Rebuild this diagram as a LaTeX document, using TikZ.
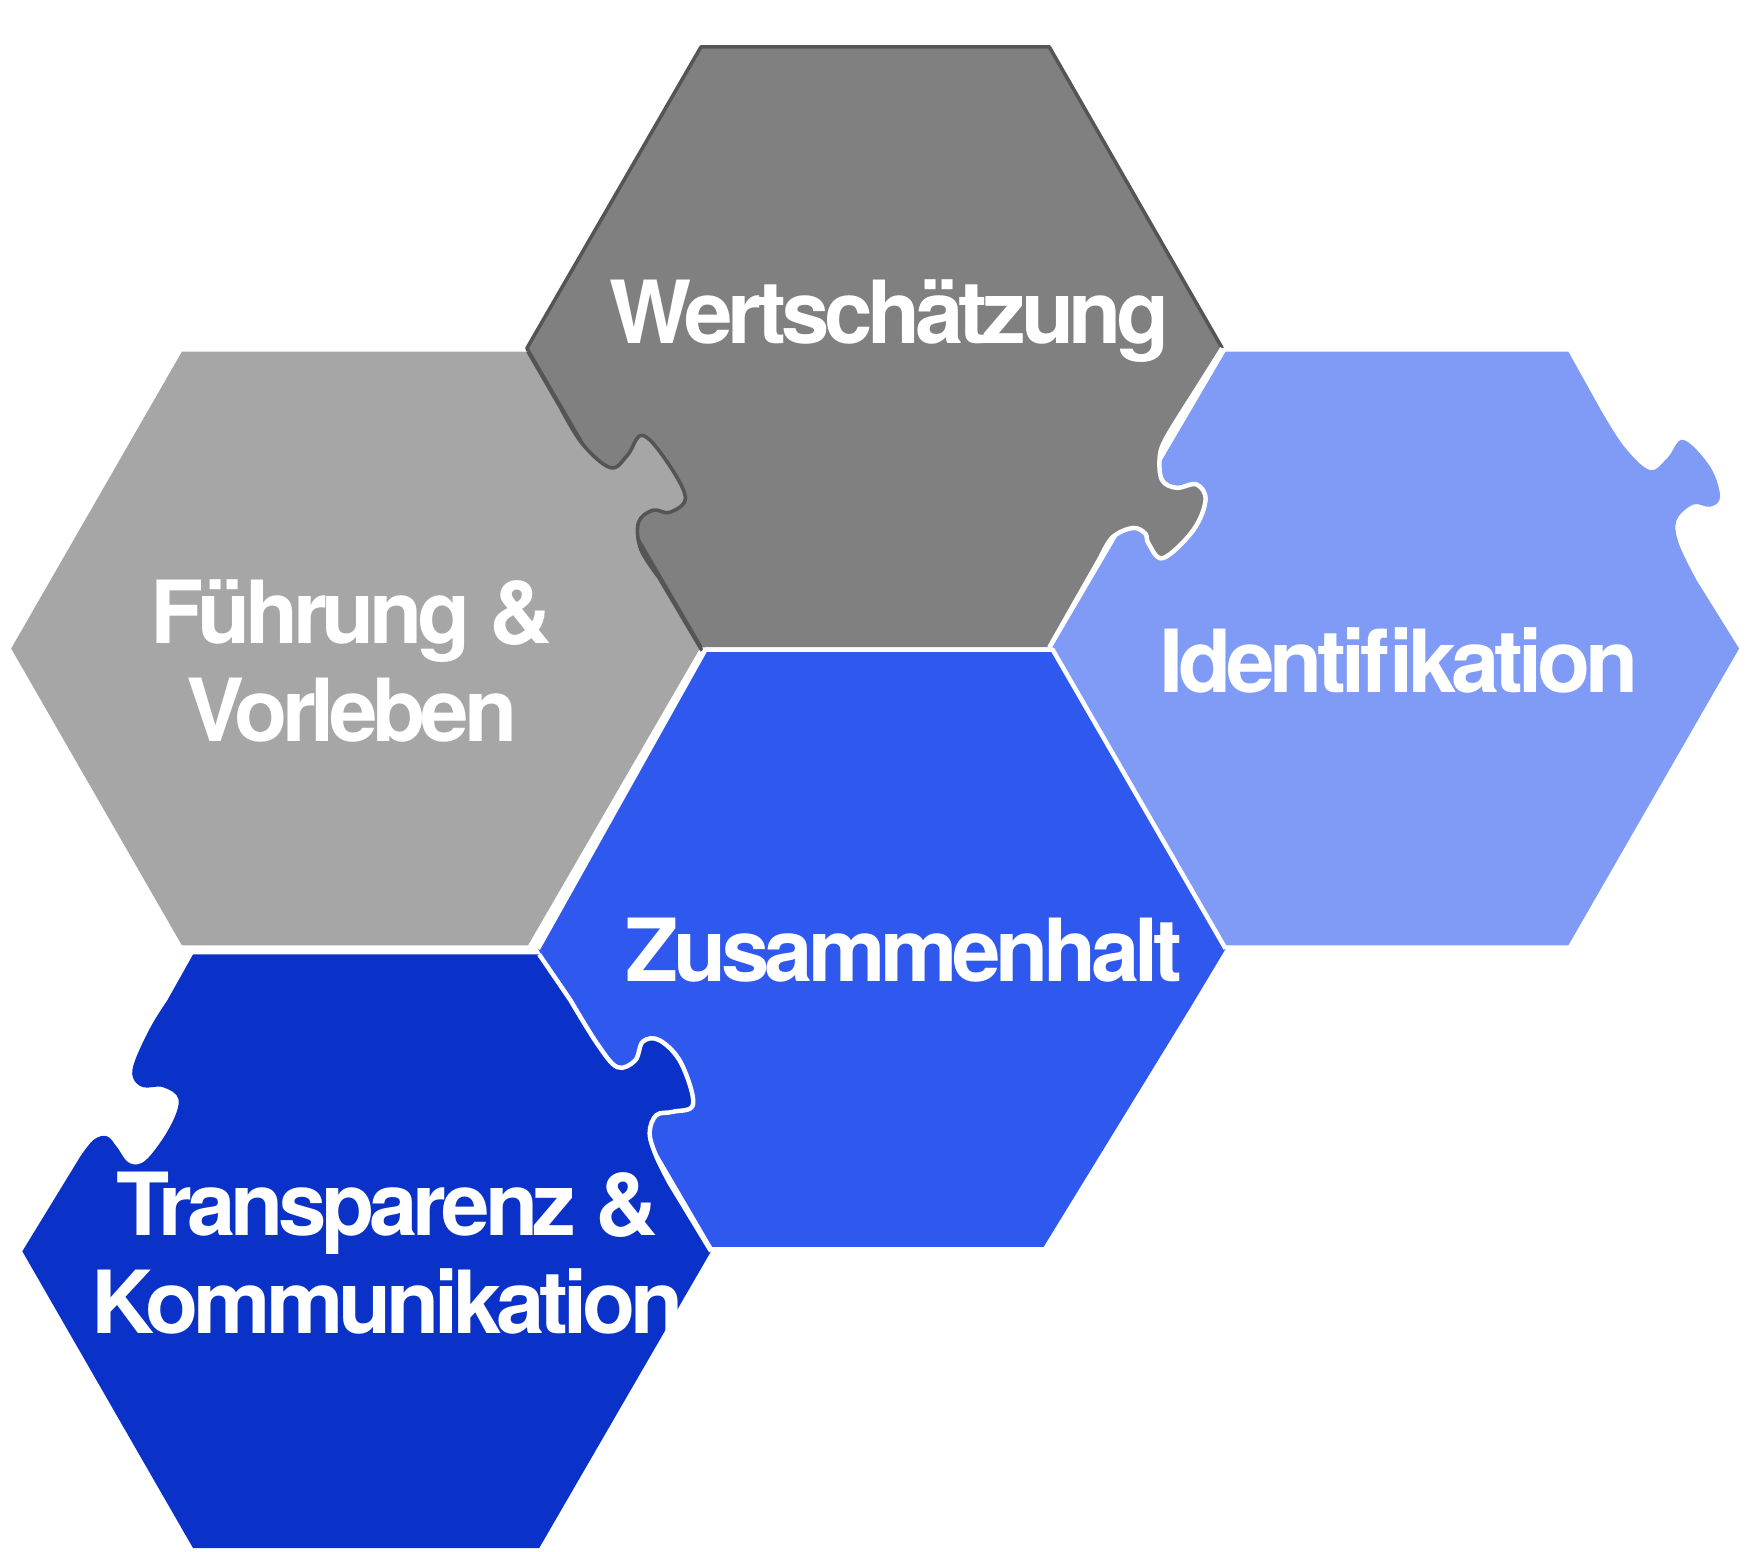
\documentclass[tikz,border=0pt]{standalone}
\usepackage{fontspec}
\setmainfont{TeX Gyre Heros}[LetterSpace=-6]
\definecolor{cWert}{HTML}{808080}
\definecolor{cWertS}{HTML}{555555}
\definecolor{cFuehr}{HTML}{A6A6A6}
\definecolor{cIdent}{HTML}{809BF5}
\definecolor{cZus}{HTML}{2E58EE}
\definecolor{cTrans}{HTML}{0A32C8}
\begin{document}
\begin{tikzpicture}[x=0.5pt,y=-0.5pt,
  lbl/.style={text=white,font=\fontsize{39}{44}\selectfont\bfseries,align=center,inner sep=0pt},
  wline/.style={draw=white,line width=2pt,line join=round},
  knob/.style={smooth,tension=0.6}]
\useasboundingbox (0,0) rectangle (1566,1390);
% Identifikation
\fill[cIdent] (1098,315) -- (1405,315) -- (1434,367) -- plot[knob] coordinates {(1434,367) (1455,400) (1478,421) (1494,410) (1508,394) (1532,418) (1541,445) (1532,454) (1517,452) (1502,466) (1504,487) (1520,520)} -- (1558,581) -- (1405,847) -- (1098,847) -- (942,581) -- cycle;
% Wertschaetzung
\fill[cWert] (628,42) -- (940,42) -- (1095,312) -- (1066,358) -- plot[knob] coordinates {(1066,358) (1045,392) (1039,409) (1041,430) (1054,437) (1072,434) (1080,448) (1069,475) (1042,500) (1029,487) (1026,478) (1015,473) (997,481) (986,499)} -- (940,580) -- (628,580) -- (472,312) -- cycle;
\draw[cWertS,line width=1.6pt,line join=round] (628,580) -- (472,312) -- (628,42) -- (940,42) -- (1095,312);
\draw[wline] (1095,312) -- (1066,358) -- plot[knob] coordinates {(1066,358) (1045,392) (1039,409) (1041,430) (1054,437) (1072,434) (1080,448) (1069,475) (1042,500) (1029,487) (1026,478) (1015,473) (997,481) (986,499)} -- (940,580);
% Fuehrung
\fill[cFuehr] (163,315) -- (473,315) -- (502,365) -- plot[knob] coordinates {(502,365) (522,398) (547,419) (562,408) (575,390) (595,410) (614,445) (600,459) (585,457) (572,468) (574,492) (590,517)} -- (627,581) -- (473,847) -- (163,847) -- (10,581) -- cycle;
\draw[cWertS,line width=1.6pt,line join=round] (473,315) -- (502,365) -- plot[knob] coordinates {(502,365) (522,398) (547,419) (562,408) (575,390) (595,410) (614,445) (600,459) (585,457) (572,468) (574,492) (590,517)} -- (629,583);
% Zusammenhalt
\fill[cZus] (632,582) -- (943,582) -- (1098,850) -- (1065,905) -- (935,1117) -- (638,1117) -- (482,850) -- cycle;
\draw[wline] (632,582) -- (943,582) -- (1098,850);
\draw[wline] (632,582) -- (482,850);
% Transparenz
\fill[cTrans] (173,855) -- (483,855) -- (511,896) -- plot[knob] coordinates {(511,896) (535,935) (553,956) (569,950) (576,933) (591,932) (610,952) (621,989) (603,996) (588,999) (582,1015) (588,1036) (600,1060)} -- (637,1121) -- (483,1387) -- (173,1387) -- (20,1121) -- (72,1036) -- plot[knob] coordinates {(72,1036) (84,1021) (96,1018) (105,1028) (116,1042) (131,1039) (152,1010) (160,985) (146,974) (128,974) (119,965) (121,950) (135,920) (150,896)} -- cycle;
\draw[wline] (483,855) -- (511,896) -- plot[knob] coordinates {(511,896) (535,935) (553,956) (569,950) (576,933) (591,932) (610,952) (621,989) (603,996) (588,999) (582,1015) (588,1036) (600,1060)} -- (637,1121);
% labels
\node[lbl] (wert) at (797,288) {Wertschätzung};
\node[lbl] (fuehr) at (315,592) {Führung \&\\Vorleben};
\node[lbl] (ident) at (1253,592) {Identifikation};
\node[lbl] (zus) at (810,851) {Zusammenhalt};
\node[lbl] (trans) at (347,1123) {Transparenz \&\\Kommunikation};
\end{tikzpicture}
\end{document}
